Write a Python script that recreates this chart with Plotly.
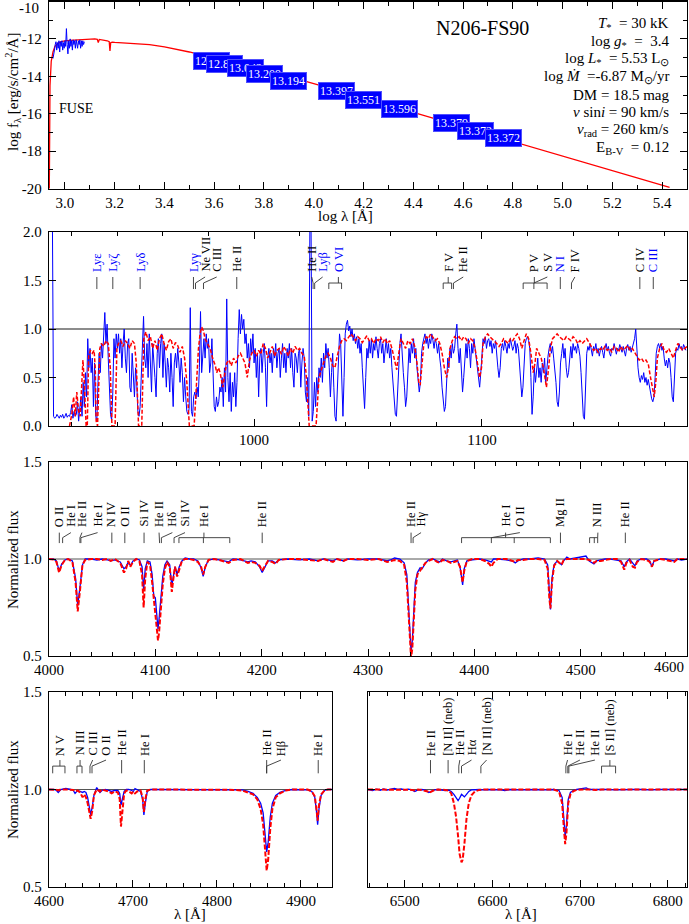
import plotly.graph_objects as go

FONT = "Liberation Serif"
W, H = 689, 924
BLUE = "#0000ff"
RED = "#ff0000"

# ---------------- Panel 1: SED ----------------
sed_model_loglam = [2.937, 2.940, 2.945, 2.952, 2.960, 2.970, 2.985, 3.000, 3.020, 3.040,
                    3.060, 3.080, 3.100, 3.120, 3.130, 3.134, 3.138, 3.150, 3.170, 3.178,
                    3.181, 3.184, 3.190, 3.200, 3.250, 3.300, 3.340, 3.400, 3.460, 3.500,
                    3.550, 3.600, 3.650, 3.700, 3.780, 3.850, 3.900, 3.950, 4.000, 4.050,
                    4.105, 4.150, 4.200, 4.400, 4.600, 4.800, 5.000, 5.200, 5.430]
sed_model_logf = [-20.5, -14.5, -13.2, -12.7, -12.4, -12.25, -12.15, -12.1, -12.08, -12.06,
                  -12.05, -12.05, -12.03, -12.0, -12.02, -12.2, -12.03, -12.05, -12.1, -12.15,
                  -12.65, -12.2, -12.17, -12.19, -12.22, -12.26, -12.31, -12.43, -12.58, -12.7,
                  -12.87, -13.07, -13.23, -13.39, -13.64, -13.88, -14.03, -14.2, -14.39, -14.59,
                  -14.8, -14.95, -15.15, -15.93, -16.71, -17.48, -18.26, -19.04, -19.94]
sed_fuse_loglam = [2.952, 2.955, 2.958, 2.961, 2.964, 2.967, 2.970, 2.973, 2.976, 2.979,
                   2.982, 2.985, 2.988, 2.991, 2.994, 2.997, 3.000, 3.003, 3.006, 3.009,
                   3.012, 3.015, 3.018, 3.021, 3.024, 3.027, 3.030, 3.033, 3.036, 3.039,
                   3.042, 3.045, 3.048, 3.051, 3.054, 3.057, 3.060, 3.063, 3.066, 3.069,
                   3.072, 3.075, 3.078]
sed_fuse_logf = [-13.05, -12.9, -12.6, -12.3, -12.15, -12.6, -12.2, -12.5, -12.1, -12.7,
                 -12.15, -12.4, -12.1, -12.6, -12.2, -12.5, -12.1, -12.4, -11.45, -12.3,
                 -12.8, -12.1, -12.5, -12.0, -12.4, -12.1, -12.6, -12.05, -12.3, -12.1,
                 -12.5, -12.05, -12.2, -12.5, -12.1, -12.3, -12.05, -12.5, -12.1, -12.4,
                 -12.1, -12.3, -12.15]
phot_loglam = [3.589, 3.641, 3.726, 3.804, 3.900, 4.091, 4.198, 4.343, 4.552, 4.648, 4.761]
phot_logf = [-13.16, -13.32, -13.54, -13.86, -14.23, -14.81, -15.29, -15.77, -16.49, -16.93, -17.30]
phot_text = ["12.972", "12.839", "13.042", "13.209", "13.194", "13.397", "13.551",
             "13.596", "13.379", "13.372", "13.372"]
sed_xticks = [3.0, 3.2, 3.4, 3.6, 3.8, 4.0, 4.2, 4.4, 4.6, 4.8, 5.0, 5.2, 5.4]
sed_yticks = [-20, -18, -16, -14, -12]

star_name = "N206-FS90"
param_lines = ["<i>T</i><sub>*</sub>  = 30 kK",
               "log <i>g</i><sub>*</sub>  =  3.4",
               "log <i>L</i><sub>*</sub>  = 5.53 L<sub>⊙</sub>",
               "log <i>Ṁ</i>  =-6.87 M<sub>⊙</sub>/yr",
               "DM = 18.5 mag",
               "<i>v</i> sin<i>i</i> = 90 km/s",
               "<i>v</i><sub>rad</sub> = 260 km/s",
               "E<sub>B-V</sub>  = 0.12"]

# ---------------- Panel 2: FUSE (observed on 0.5 A grid from 910 A) ----------------
fuse_grid_start = 910.0
fuse_grid_step = 0.5
fuse_obs_flux = [
    None, None, None, 2.1, .10, .08, .09, .12, .10, .08, .11, .09, .12, .08, .10, .13, .09, .11, .10, .14,   # 910
    .22, .08, .15, .10, .12, .25, .05, .18, .30, .10, .45, .20, .55, .30, .90, .60, .80, .55, .70, .20,      # 920
    .65, .10, .05, .45, .75, .55, .85, .70, .95, 1.17, .85, 1.05, .70, .30, .12, .06, .35, .90, .70, .95,    # 930
    .80, .95, .75, .90, .60, .85, 1.00, .70, .55, .85, .90, .40, .35, .75, .55, .30, .60, .45, .15, .10,     # 940
    .20, .50, .85, 1.13, .70, .60, .85, .50, .95, .60, .35, .85, .70, .50, .30, .75, .90, .60, .85, .95,     # 950
    .50, .85, .65, .40, .70, .60, .35, .75, .50, .20, .65, .75, .60, .80, .65, .45, .70, .55, .25, .50,      # 960
    .30, .15, .12, .18, 1.22, .15, .10, .30, .35, .28, .40, .30, .60, 1.18, .55, .80, .90, .70, .95, .80,    # 970
    .90, .55, .65, .90, .40, .20, .15, .30, .20, .25, .40, .35, .50, .20, .60, .35, 1.31, .50, .25, .55,     # 980
    .15, .45, .30, .55, .20, .45, .90, 1.20, .95, 1.15, 1.00, 1.10, .85, .95, .70, .85, .60, .90, .75, .95,  # 990
    .65, .80, .50, .75, .30, .70, .80, .55, .75, .85, .60, .20, .70, .80, .65, .75, .55, .80, .70, .85,      # 1000
    .60, .75, .80, .50, .70, .85, .60, .75, .55, .80, .70, .85, .60, .80, .55, .40, .75, .70, .55, .75,      # 1010
    .80, .40, .65, .80, .70, .35, .25, .50, .10, 2.10, 2.10, .05, .15, .45, .20, .50, .35, .60, .50, .70,    # 1020
    .45, .75, .60, .85, .70, .80, .60, .30, .55, .75, .40, .10, .05, .40, .80, .95, .85, .50, .10, .50,      # 1030
    .95, 1.05, 1.09, .98, 1.03, .92, 1.00, .88, .95, .85, .92, .80, .90, .75, .85, .60, .40, .18, .50, .80,  # 1040
    .70, .88, .75, .90, .70, .85, .78, .92, .80, .70, .85, .90, .75, .85, .65, .80, .90, .75, .85, .70,      # 1050
    .80, .60, .45, .25, .12, .10, .40, .70, .85, .95, .70, .55, .40, .20, .30, .60, .80, .65, .85, .75,      # 1060
    .90, .70, .80, .60, .50, .35, .45, .75, .85, .90, .95, .85, .92, .80, .90, .85, .95, .88, .80, .90,      # 1070
    .85, .75, .85, .70, .60, .40, .25, .15, .20, .50, .70, .60, .80, .70, .85, .75, .80, .95, 1.05, .80,     # 1080
    .65, .80, .55, .35, .50, .75, .85, .70, .90, .80, .60, .85, .75, .90, .80, .65, .55, .45, .40, .55,      # 1090
    .80, .90, .85, .92, .80, .88, .90, .82, .88, .75, .85, .80, .88, .70, .60, .50, .60, .80, .85, .78,      # 1100
    .88, .82, .75, .85, .80, .90, .85, .78, .82, .88, .75, .85, .80, .65, .45, .30, .40, .70, .85, .90,      # 1110
    .92, .88, .80, .50, .12, .30, .60, .45, .55, .70, .50, .60, .45, .65, .55, .70, .45, .60, .72, .80,      # 1120
    .85, .75, .82, .70, .60, .45, .25, .20, .35, .65, .75, .85, .70, .80, .60, .50, .55, .75, .82, .70,      # 1130
    .85, .78, .82, .75, .85, .80, .72, .55, .35, .10, .07, .40, .75, .82, .78, .85, .80, .72, .82, .78,      # 1140
    .85, .75, .80, .72, .78, .82, .76, .70, .80, .85, .78, .82, .75, .72, .80, .78, .85, .80, .74, .80,      # 1150
    .78, .84, .80, .76, .82, .78, .72, .80, .84, .78, .82, .76, .80, .85, .90, 1.00, .75, .60, .50, .45,     # 1160
    .52, .48, .55, .45, .50, .42, .48, .40, .35, .28, .25, .30, .50, .75, .82, .85, .80, .85, .78, .82,      # 1170
    .70, .62, .68, .60, .70, .65, .50, .30, .25, .45, .75, .80, .78, .85, .80, .82, .78, .84, .80, .78,      # 1180
]
fuse_mod_wave = [
    919.0, 920.0, 920.8, 921.5, 922.2, 923.0, 923.7, 924.4, 924.9, 925.5,
    925.9, 926.3, 926.8, 927.4, 928.2, 929.0, 929.8, 930.3, 930.7, 931.3,
    931.7, 932.3, 933.0, 934.0, 935.0, 936.0, 936.9, 937.3, 937.6, 939.0,
    939.4, 939.8, 940.5, 941.5, 942.5, 943.5, 944.5, 945.5, 946.5, 947.5,
    948.3, 948.8, 949.3, 950.7, 951.1, 951.6, 952.5, 953.5, 954.5, 955.5,
    956.5, 957.5, 958.5, 959.5, 960.5, 961.5, 962.5, 963.5, 964.5, 965.5,
    966.5, 967.5, 968.5, 969.5, 970.5, 971.2, 971.6, 973.7, 974.3, 974.9,
    975.6, 976.3, 977.0, 977.8, 978.5, 979.5, 980.7, 981.8, 983.0, 983.6,
    984.4, 985.1, 986.3, 987.2, 988.0, 989.0, 990.0, 991.0, 992.0, 993.0,
    994.0, 995.0, 996.0, 997.0, 998.0, 999.0, 1000.0, 1001.0, 1002.0, 1003.0,
    1004.0, 1005.0, 1006.0, 1007.0, 1008.0, 1009.0, 1010.0, 1011.0, 1012.0, 1013.0,
    1014.0, 1015.0, 1016.0, 1017.0, 1018.0, 1019.0, 1020.0, 1021.0, 1022.0, 1022.8,
    1023.5, 1024.2, 1027.2, 1027.8, 1028.5, 1029.5, 1030.5, 1031.5, 1032.5, 1033.5,
    1034.5, 1035.5, 1036.5, 1037.5, 1038.5, 1039.5, 1040.5, 1041.5, 1042.5, 1043.5,
    1044.5, 1045.5, 1046.5, 1047.5, 1048.5, 1049.5, 1050.5, 1051.5, 1052.5, 1053.5,
    1054.5, 1055.5, 1056.5, 1057.5, 1058.5, 1059.5, 1060.5, 1061.5, 1062.6, 1063.5,
    1064.5, 1065.5, 1066.5, 1067.5, 1068.5, 1069.5, 1070.5, 1071.5, 1072.3, 1072.9,
    1073.6, 1074.5, 1075.5, 1076.5, 1077.5, 1078.5, 1079.5, 1080.5, 1081.5, 1082.5,
    1083.5, 1084.5, 1085.3, 1086.0, 1087.0, 1088.0, 1089.0, 1090.0, 1091.0, 1092.0,
    1093.0, 1094.0, 1095.0, 1096.0, 1097.0, 1098.0, 1099.0, 1099.8, 1100.5, 1101.5,
    1102.5, 1103.5, 1104.5, 1105.5, 1106.5, 1107.5, 1108.5, 1109.5, 1110.5, 1111.5,
    1112.5, 1113.5, 1114.5, 1115.5, 1116.5, 1117.5, 1118.5, 1119.5, 1120.5, 1121.5,
    1122.5, 1123.3, 1124.0, 1125.0, 1126.0, 1127.0, 1128.3, 1129.3, 1130.0, 1131.0,
    1132.0, 1133.0, 1134.0, 1135.0, 1136.0, 1137.0, 1138.0, 1139.0, 1140.0, 1141.0,
    1142.0, 1143.0, 1144.0, 1145.0, 1146.0, 1147.0, 1148.0, 1149.0, 1150.0, 1151.0,
    1152.0, 1153.0, 1154.0, 1155.0, 1156.0, 1157.0, 1158.0, 1159.0, 1160.0, 1161.0,
    1162.0, 1163.0, 1164.0, 1165.0, 1166.0, 1167.0, 1168.0, 1169.0, 1170.0, 1171.0,
    1172.0, 1173.0, 1174.0, 1175.0, 1175.6, 1176.3, 1177.0, 1178.0, 1179.0, 1180.0,
    1181.0, 1182.0, 1183.0, 1184.0, 1185.0, 1186.0, 1187.0, 1188.0, 1189.0, 1190.0]
fuse_mod_flux = [
    0.00, 0.12, 0.30, 0.10, 0.35, 0.15, 0.10, 0.55, 0.68, 0.45,
    0.25, 0.00, 0.00, 0.72, 0.78, 0.75, 0.78, 0.60, 0.05, 0.00,
    0.30, 0.80, 0.85, 0.82, 0.88, 0.85, 0.60, 0.10, 0.00, 0.00,
    0.35, 0.80, 0.85, 0.88, 0.82, 0.88, 0.85, 0.80, 0.88, 0.85,
    0.65, 0.30, 0.00, 0.00, 0.40, 0.90, 0.97, 0.88, 0.92, 0.80,
    0.88, 0.78, 0.90, 0.95, 0.85, 0.78, 0.87, 0.90, 0.80, 0.86,
    0.83, 0.76, 0.82, 0.70, 0.45, 0.20, 0.00, 0.00, 0.25, 0.50,
    0.80, 0.95, 1.02, 0.98, 0.90, 0.85, 0.80, 0.70, 0.62, 0.55,
    0.60, 0.55, 0.40, 0.55, 0.65, 0.68, 0.62, 0.70, 0.65, 0.72,
    0.75, 0.70, 0.65, 0.50, 0.68, 0.75, 0.78, 0.72, 0.78, 0.74,
    0.85, 0.80, 0.70, 0.76, 0.82, 0.72, 0.78, 0.80, 0.74, 0.82,
    0.78, 0.72, 0.80, 0.75, 0.82, 0.78, 0.80, 0.75, 0.72, 0.55,
    0.30, 0.00, 0.00, 0.30, 0.50, 0.58, 0.65, 0.72, 0.75, 0.70,
    0.62, 0.60, 0.72, 0.82, 0.88, 0.90, 0.88, 0.92, 0.95, 0.92,
    0.88, 0.92, 0.90, 0.86, 0.90, 0.93, 0.88, 0.90, 0.85, 0.90,
    0.88, 0.92, 0.86, 0.90, 0.85, 0.88, 0.80, 0.68, 0.58, 0.75,
    0.90, 0.85, 0.80, 0.88, 0.85, 0.90, 0.82, 0.65, 0.45, 0.42,
    0.60, 0.85, 0.92, 0.90, 0.95, 0.92, 0.88, 0.90, 0.85, 0.75,
    0.60, 0.50, 0.60, 0.80, 0.88, 0.92, 0.90, 0.92, 0.88, 0.92,
    0.90, 0.85, 0.90, 0.88, 0.80, 0.65, 0.50, 0.60, 0.85, 0.92,
    0.95, 0.92, 0.90, 0.88, 0.85, 0.82, 0.85, 0.90, 0.88, 0.85,
    0.90, 0.88, 0.92, 0.95, 0.90, 0.80, 0.88, 0.95, 0.90, 0.75,
    0.55, 0.65, 0.80, 0.75, 0.70, 0.60, 0.40, 0.60, 0.80, 0.90,
    0.93, 0.95, 0.92, 0.90, 0.88, 0.92, 0.90, 0.88, 0.92, 0.90,
    0.85, 0.88, 0.85, 0.88, 0.90, 0.86, 0.82, 0.78, 0.80, 0.76,
    0.80, 0.78, 0.82, 0.78, 0.80, 0.76, 0.82, 0.80, 0.76, 0.82,
    0.78, 0.80, 0.83, 0.78, 0.80, 0.76, 0.72, 0.68, 0.70, 0.66,
    0.68, 0.64, 0.50, 0.35, 0.30, 0.45, 0.70, 0.80, 0.85, 0.78,
    0.76, 0.80, 0.75, 0.70, 0.78, 0.85, 0.82, 0.78, 0.80, 0.82]
fuse_xticks = [1000, 1100]
fuse_yticks = [0.0, 0.5, 1.0, 1.5, 2.0]

p2_label_text = ["Lyε", "Lyζ", "Lyδ", "Lyγ", "Ne VII", "C III", "He II", "He II", "Lyβ", "O VI",
                 "F V", "He II", "P V", "S V", "N I", "F IV", "C IV", "C III"]
p2_label_x = [931.0, 938.0, 950.0, 973.4, 978.5, 983.6, 992.4, 1025.3, 1030.1, 1037.0,
              1085.2, 1091.8, 1123.0, 1128.7, 1134.4, 1140.8, 1169.3, 1175.2]
p2_label_lines = [[931.0], [938.0], [950.0], [973.4], [974.3], [977.8], [992.4], [1025.9], [1026.6],
                  [1032.8, 1038.4], [1083.0, 1086.7], [1087.5], [1118.1, 1128.6], [1122.8],
                  [1134.4], [1139.3], [1169.3], [1175.2]]
p2_label_color = [BLUE, BLUE, BLUE, BLUE, "black", "black", "black", "black", BLUE, BLUE,
                  "black", "black", "black", "black", BLUE, "black", "black", BLUE]

# ---------------- Panel 3: 4000-4600 A ----------------
p3_wave = [
    4000, 4004, 4007, 4009.5, 4012, 4015, 4018, 4022, 4025, 4027,
    4029, 4031.5, 4034, 4040, 4045, 4050, 4055, 4058, 4062, 4067,
    4070.5, 4072.5, 4074.5, 4076.5, 4079, 4082, 4085, 4087.5, 4089, 4090.5,
    4092.5, 4095, 4097, 4098.5, 4100, 4101.5, 4102.5, 4103.5, 4105, 4107,
    4109, 4111, 4113.5, 4115.5, 4117, 4118.5, 4120.5, 4122.5, 4125, 4128,
    4132, 4136, 4140, 4143, 4145, 4147, 4150, 4155, 4160, 4166,
    4169, 4173, 4180, 4187, 4190, 4194, 4198, 4200.5, 4203, 4206,
    4210, 4213, 4216, 4225, 4235, 4245, 4253, 4258, 4267, 4271,
    4277, 4281, 4290, 4300, 4310, 4318, 4321, 4325, 4330, 4334,
    4336.5, 4338, 4339.3, 4340.5, 4341.7, 4343, 4344.5, 4346.5, 4349, 4351,
    4354, 4357, 4361, 4365, 4367.5, 4370, 4374, 4378, 4381, 4384,
    4386.5, 4388, 4389, 4390.5, 4393, 4398, 4405, 4410, 4414, 4416,
    4418, 4422, 4430, 4436, 4438.5, 4441, 4446, 4452, 4460, 4466,
    4469, 4470.5, 4471.6, 4473, 4475, 4478, 4482, 4484, 4487, 4490,
    4495, 4500, 4505, 4508, 4512.5, 4515, 4519, 4523, 4528, 4534,
    4538, 4541, 4543, 4546, 4549, 4551, 4553, 4557, 4562, 4565,
    4567, 4569, 4575, 4580, 4588, 4591, 4595, 4600]
p3_obs = [
    1.0, 1.0, 0.99, 0.94, 0.975, 0.995, 1.0, 0.99, 0.9, 0.76,
    0.85, 0.97, 1.0, 1.0, 0.995, 1.0, 0.995, 0.99, 0.995, 0.985,
    0.95, 0.96, 0.985, 0.965, 0.99, 1.0, 0.995, 0.96, 0.84, 0.95,
    0.99, 0.985, 0.92, 0.81, 0.8, 0.7, 0.64, 0.69, 0.8, 0.91,
    0.97, 0.99, 0.97, 0.86, 0.91, 0.96, 0.92, 0.96, 0.99, 1.005,
    1.0, 1.0, 0.99, 0.955, 0.91, 0.96, 0.995, 1.0, 0.995, 0.99,
    0.985, 1.0, 0.995, 0.985, 0.99, 0.985, 0.96, 0.93, 0.96, 0.99,
    0.99, 0.98, 0.995, 1.0, 0.995, 1.0, 0.99, 1.0, 0.99, 1.0,
    0.99, 1.0, 0.995, 1.0, 1.0, 0.99, 0.995, 1.005, 1.0, 0.98,
    0.92, 0.78, 0.6, 0.52, 0.58, 0.74, 0.88, 0.93, 0.955, 0.95,
    0.98, 0.995, 1.0, 0.99, 0.985, 1.0, 0.99, 0.985, 0.99, 0.995,
    0.96, 0.9, 0.866, 0.95, 0.99, 0.995, 1.0, 0.995, 0.99, 0.985,
    1.0, 1.0, 0.995, 0.99, 0.98, 0.99, 1.0, 1.0, 1.005, 1.0,
    0.97, 0.85, 0.74, 0.9, 0.97, 0.99, 0.97, 0.99, 1.01, 1.0,
    1.005, 1.01, 1.015, 0.99, 0.975, 0.99, 0.995, 1.0, 1.0, 0.995,
    0.99, 0.96, 0.985, 1.0, 0.975, 0.965, 0.99, 1.0, 1.0, 0.99,
    0.96, 0.99, 1.0, 1.0, 0.99, 1.0, 0.995, 1.0]
p3_mod = [
    1.0, 0.998, 0.985, 0.93, 0.97, 0.995, 1.0, 0.985, 0.88, 0.73,
    0.83, 0.97, 0.995, 1.0, 1.0, 0.995, 1.0, 0.99, 1.0, 0.98,
    0.93, 0.95, 0.99, 0.96, 0.985, 1.0, 0.99, 0.92, 0.75, 0.9,
    0.985, 0.97, 0.88, 0.8, 0.7, 0.62, 0.58, 0.62, 0.74, 0.87,
    0.95, 0.985, 0.96, 0.83, 0.9, 0.96, 0.91, 0.95, 0.99, 1.0,
    1.0, 0.995, 0.985, 0.96, 0.92, 0.96, 0.995, 1.0, 0.995, 0.985,
    0.98, 0.995, 1.0, 0.98, 0.985, 0.98, 0.965, 0.94, 0.965, 0.99,
    0.985, 0.975, 0.995, 1.0, 1.0, 0.995, 0.99, 1.0, 0.985, 1.0,
    0.99, 1.0, 1.0, 0.995, 1.0, 0.985, 0.99, 0.995, 0.99, 0.97,
    0.88, 0.7, 0.55, 0.49, 0.54, 0.68, 0.84, 0.92, 0.94, 0.955,
    0.98, 0.99, 1.0, 0.985, 0.98, 0.995, 0.99, 0.98, 0.985, 0.99,
    0.96, 0.9, 0.88, 0.94, 0.99, 1.0, 1.0, 0.99, 0.975, 0.96,
    0.98, 1.0, 1.0, 0.99, 0.985, 0.995, 0.995, 1.0, 1.0, 0.995,
    0.95, 0.8, 0.745, 0.88, 0.965, 0.99, 0.97, 0.995, 1.0, 1.0,
    1.0, 1.0, 1.0, 0.995, 0.98, 0.99, 0.99, 0.995, 1.0, 1.0,
    0.985, 0.945, 0.98, 0.995, 0.96, 0.955, 0.985, 1.0, 0.995, 0.985,
    0.96, 0.99, 1.0, 0.995, 0.985, 1.0, 1.0, 1.0]
p3_xticks = [4000, 4100, 4200, 4300, 4400, 4500]

p3_label_text = ["O II", "He I", "He II", "He I", "N IV", "O II", "Si IV", "He II", "Hδ", "Si IV",
                 "He I", "He II", "He II", "Hγ", "He I", "O II", "Mg II", "N III", "He II"]
p3_label_x = [4009.7, 4020.6, 4031.0, 4045.7, 4059.1, 4071.3, 4089.4, 4103.5, 4116.0, 4127.9,
              4145.7, 4200.5, 4340.5, 4349.9, 4429.4, 4442.8, 4481.0, 4516.2, 4542.0]
p3_label_lines = [[4009.7], [4012.8], [4029.1], [4030.0], [4059.1], [4071.3], [4089.4], [4104.0],
                  [4105.7], [4117.6], [4122.2, 4145.2, 4170.0], [4200.5], [4340.5], [4342.4],
                  [4388.0, 4437.5, 4471.5], [4416.0], [4481.0], [4508.4, 4512.8, 4516.0], [4542.0]]

# ---------------- Panel 4: 4600-4940 A ----------------
p4_wave = [
    4600, 4606, 4609, 4611, 4614, 4620, 4626, 4629, 4631, 4634,
    4637, 4640, 4642, 4644, 4646, 4648, 4649.6, 4651.5, 4653.5, 4656.8,
    4658.5, 4660.7, 4663, 4667, 4671, 4674.6, 4678, 4682, 4684.2, 4685.7,
    4687.3, 4689.5, 4692, 4695, 4698.5, 4700.5, 4702.4, 4705, 4709, 4711.5,
    4713, 4714.7, 4717, 4721, 4730, 4740, 4750, 4760, 4770, 4780,
    4790, 4800, 4810, 4820, 4830, 4837, 4843, 4848, 4852, 4855,
    4857.5, 4859.2, 4861, 4863.5, 4866, 4870, 4875, 4882, 4890, 4900,
    4908, 4913, 4916.5, 4918.5, 4919.9, 4921.5, 4924, 4928, 4932, 4937]
p4_obs = [
    1.0, 1.0, 0.995, 0.985, 1.0, 1.005, 1.0, 0.995, 0.98, 0.995,
    0.99, 0.985, 0.99, 0.985, 0.96, 0.9, 0.87, 0.91, 0.97, 1.01,
    1.0, 0.985, 0.995, 1.0, 0.995, 0.99, 0.995, 0.995, 0.98, 0.92,
    0.95, 0.99, 1.0, 1.0, 0.995, 0.99, 1.005, 1.0, 0.99, 0.95,
    0.87, 0.93, 0.99, 1.0, 1.0, 0.998, 1.0, 1.0, 0.998, 1.0,
    1.0, 0.998, 1.0, 1.0, 0.998, 0.99, 0.98, 0.96, 0.93, 0.88,
    0.78, 0.68, 0.73, 0.86, 0.93, 0.97, 0.985, 0.995, 1.0, 1.0,
    0.998, 0.99, 0.96, 0.89, 0.82, 0.9, 0.97, 0.995, 1.0, 1.0]
p4_mod = [
    1.0, 1.0, 0.998, 0.995, 1.0, 1.0, 1.0, 0.998, 0.99, 0.995,
    0.985, 0.96, 0.975, 0.96, 0.93, 0.89, 0.85, 0.89, 0.97, 1.0,
    0.995, 0.99, 1.0, 0.995, 0.99, 0.98, 0.99, 0.985, 0.95, 0.81,
    0.9, 0.98, 0.995, 0.99, 0.98, 0.99, 0.98, 0.99, 0.995, 0.96,
    0.885, 0.95, 0.995, 1.0, 1.0, 1.0, 0.998, 1.0, 1.0, 1.0,
    0.998, 1.0, 1.0, 0.998, 0.995, 0.985, 0.975, 0.95, 0.9, 0.82,
    0.7, 0.584, 0.64, 0.8, 0.9, 0.96, 0.98, 0.995, 1.0, 1.0,
    1.0, 0.99, 0.965, 0.9, 0.84, 0.92, 0.975, 0.995, 1.0, 1.0]
p4_xticks = [4600, 4700, 4800, 4900]

p4_label_text = ["N V", "N III", "C III", "O II", "He II", "He I", "He II", "Hβ", "He I"]
p4_label_x = [4613.0, 4637.0, 4652.0, 4667.9, 4686.5, 4713.5, 4859.2, 4876.2, 4920.6]
p4_label_lines = [[4604.4, 4619.0], [4633.3, 4639.3], [4648.8], [4651.2], [4686.5], [4713.5],
                  [4859.2], [4859.2], [4920.6]]

# ---------------- Panel 5: H alpha region ----------------
p5_wave = [
    6458, 6463, 6468, 6472, 6476, 6480, 6484, 6488, 6492, 6496,
    6500, 6504, 6508, 6511.4, 6515, 6519, 6523, 6526, 6527.5, 6530,
    6534, 6538, 6542, 6546, 6550, 6553, 6556, 6558.5, 6560.8, 6562.5,
    6564.7, 6566, 6568, 6570.4, 6573, 6576, 6580, 6585, 6590, 6596,
    6602, 6608, 6614, 6620, 6630, 6640, 6650, 6660, 6670, 6676,
    6679.5, 6681.5, 6683, 6684.5, 6686.5, 6689, 6692, 6696, 6700, 6704,
    6707, 6711, 6718, 6725, 6732, 6740, 6750, 6760, 6770, 6780,
    6790, 6800, 6810, 6822]
p5_obs = [
    1.0, 0.995, 1.002, 0.996, 1.003, 0.997, 1.002, 1.005, 1.0, 1.003,
    0.998, 1.002, 0.998, 0.99, 0.998, 1.0, 0.998, 0.99, 0.985, 0.99,
    0.998, 1.0, 0.998, 0.995, 0.997, 0.99, 0.975, 0.955, 0.943, 0.955,
    0.975, 0.97, 0.962, 0.975, 0.99, 0.998, 1.0, 1.0, 0.998, 1.0,
    0.998, 1.0, 0.995, 1.0, 0.998, 1.0, 1.0, 0.998, 1.0, 0.995,
    0.96, 0.85, 0.758, 0.82, 0.95, 0.985, 0.995, 1.0, 1.003, 1.005,
    1.008, 1.0, 1.0, 1.003, 1.0, 0.998, 1.0, 1.0, 1.0, 0.998,
    1.0, 1.0, 1.0, 1.0]
p5_mod = [
    1.0, 1.0, 0.998, 1.0, 0.998, 0.998, 1.0, 0.998, 0.998, 1.0,
    0.998, 1.0, 0.998, 0.995, 1.0, 0.998, 0.995, 0.99, 0.983, 0.99,
    0.998, 1.0, 1.0, 0.998, 0.995, 0.98, 0.93, 0.86, 0.76, 0.67,
    0.627, 0.64, 0.72, 0.85, 0.93, 0.97, 0.99, 0.998, 1.0, 1.0,
    1.0, 1.0, 1.0, 0.998, 1.0, 1.0, 0.998, 1.0, 1.0, 0.99,
    0.93, 0.8, 0.72, 0.78, 0.93, 0.975, 0.99, 0.998, 1.0, 1.0,
    1.0, 1.0, 0.998, 1.0, 1.0, 1.0, 1.0, 0.998, 1.0, 1.0,
    1.0, 1.0, 1.0, 1.0]
p5_xticks = [6500, 6600, 6700, 6800]

p5_label_text = ["He II", "[N II] (neb)", "He II", "Hα", "[N II] (neb)", "He I", "He II", "He II",
                 "[S II] (neb)"]
p5_label_x = [6529.3, 6549.4, 6562.8, 6576.1, 6593.3, 6685.7, 6699.8, 6716.9, 6734.0]
p5_label_lines = [[6529.3], [6549.4], [6561.6], [6564.7], [6586.8], [6683.8], [6686.0], [6687.2],
                  [6724.5, 6740.5]]

norm_yticks = [0.5, 1.0, 1.5]

for a, b in [(p3_wave, p3_obs), (p3_wave, p3_mod), (p4_wave, p4_obs), (p4_wave, p4_mod),
             (p5_wave, p5_obs), (p5_wave, p5_mod), (fuse_mod_wave, fuse_mod_flux),
             (sed_model_loglam, sed_model_logf), (sed_fuse_loglam, sed_fuse_logf)]:
    assert len(a) == len(b), (len(a), len(b))

fuse_obs_wave = [fuse_grid_start + fuse_grid_step * i for i in range(len(fuse_obs_flux))]


# ---------------- helpers ----------------
def px_x(px):
    return px / W


def px_y(py):
    return 1 - py / H


fig = go.Figure()


def line_trace(x, y, xa, ya, color, width, dash=None):
    fig.add_trace(go.Scatter(x=x, y=y, mode="lines", xaxis=xa, yaxis=ya, hoverinfo="skip",
                             showlegend=False,
                             line=dict(color=color, width=width, dash=dash)))


def draw_labels(xa, ya, texts, xs, lines, colors, levels, size=12.5):
    y_text, y_top, y_mid, y_bot = levels
    sx, sy = [], []
    for t, x, ls, c in zip(texts, xs, lines, colors):
        fig.add_annotation(x=x, y=y_text, xref=xa, yref=ya, text=t, textangle=-90,
                           xanchor="center", yanchor="bottom", showarrow=False, borderpad=0,
                           font=dict(family=FONT, size=size, color=c))
        if len(ls) == 1:
            sx += [x, ls[0], ls[0], None]
            sy += [y_top, y_mid, y_bot, None]
        else:
            lo, hi = min(ls), max(ls)
            xc = min(max(x, lo), hi)
            sx += [x, xc, None, lo, hi, None]
            sy += [y_top, y_mid, None, y_mid, y_mid, None]
            for l in ls:
                sx += [l, l, None]
                sy += [y_mid, y_bot, None]
    fig.add_trace(go.Scatter(x=sx, y=sy, mode="lines", xaxis=xa, yaxis=ya, hoverinfo="skip",
                             showlegend=False, line=dict(color="#333333", width=0.9)))


# ---------------- traces ----------------
line_trace(sed_model_loglam, sed_model_logf, "x", "y", RED, 1.3)
line_trace(sed_fuse_loglam, sed_fuse_logf, "x", "y", BLUE, 1.0)

line_trace(fuse_obs_wave, fuse_obs_flux, "x2", "y2", BLUE, 1.0)
line_trace(fuse_mod_wave, fuse_mod_flux, "x2", "y2", RED, 1.5, "4px,2px")

line_trace(p3_wave, p3_obs, "x3", "y3", BLUE, 1.3)
line_trace(p3_wave, p3_mod, "x3", "y3", RED, 2.0, "5px,2px")
line_trace(p4_wave, p4_obs, "x4", "y4", BLUE, 1.3)
line_trace(p4_wave, p4_mod, "x4", "y4", RED, 2.0, "5px,2px")
line_trace(p5_wave, p5_obs, "x5", "y5", BLUE, 1.3)
line_trace(p5_wave, p5_mod, "x5", "y5", RED, 2.0, "5px,2px")

# continuum reference lines
for xa, ya, col, wd in [("x2", "y2", "#8c8c8c", 2.0), ("x3", "y3", "#555555", 1.0),
                        ("x4", "y4", "#555555", 1.0), ("x5", "y5", "#555555", 1.0)]:
    fig.add_shape(type="line", xref=xa + " domain", yref=ya, x0=0, x1=1, y0=1.0, y1=1.0,
                  line=dict(color=col, width=wd), layer="below")

# line identifications
draw_labels("x2", "y2", p2_label_text, p2_label_x, p2_label_lines, p2_label_color,
            (1.577, 1.536, 1.474, 1.412))
draw_labels("x3", "y3", p3_label_text, p3_label_x, p3_label_lines, ["black"] * len(p3_label_text),
            (1.16, 1.136, 1.110, 1.082))
draw_labels("x4", "y4", p4_label_text, p4_label_x, p4_label_lines, ["black"] * len(p4_label_text),
            (1.168, 1.151, 1.12, 1.083))
draw_labels("x5", "y5", p5_label_text, p5_label_x, p5_label_lines, ["black"] * len(p5_label_text),
            (1.168, 1.151, 1.12, 1.083))

# photometry boxes
for lx, lf, t in zip(phot_loglam, phot_logf, phot_text):
    fig.add_annotation(x=lx, y=lf, xref="x", yref="y", text=t, showarrow=False,
                       bgcolor=BLUE, bordercolor="#5050ff", borderwidth=1, borderpad=1,
                       font=dict(family=FONT, size=12, color="white"))

# ---------------- axes ----------------
tickfont = dict(family=FONT, size=15, color="black")


def axis(domain, rng, tickvals, ticktext, minor_vals=None, anchor=None, show=True, standoff=3):
    d = dict(domain=domain, range=rng, tickmode="array", tickvals=tickvals, ticktext=ticktext,
             ticks="inside", ticklen=7, tickwidth=1, tickcolor="black", showline=True,
             linecolor="black", linewidth=1.3, mirror="allticks", showgrid=False,
             zeroline=False, tickfont=tickfont, anchor=anchor, showticklabels=show,
             ticklabelstandoff=standoff, automargin=False)
    if minor_vals:
        d["minor"] = dict(tickmode="array", tickvals=minor_vals, ticks="inside", ticklen=4,
                          tickcolor="black", showgrid=False)
    return d


xdom_full = [px_x(49), px_x(687)]
fig.update_layout(
    width=W, height=H, margin=dict(l=0, r=0, t=0, b=0, pad=0, autoexpand=False), autosize=False,
    paper_bgcolor="white", plot_bgcolor="white", showlegend=False, hovermode=False,
    font=dict(family=FONT, color="black"),
    xaxis=axis(xdom_full, [2.936, 5.5], sed_xticks, ["%.1f" % v for v in sed_xticks],
               [round(2.9 + 0.2 * i, 2) for i in range(14)], "y", standoff=0),
    yaxis=axis([px_y(188.5), px_y(1.5)], [-20, -10], sed_yticks,
               ["%d" % v for v in sed_yticks],
               [-19, -17, -15, -13, -11], "x"),
    xaxis2=axis(xdom_full, [910, 1190], fuse_xticks, ["1000", "1100"],
                [920 + 20 * i for i in range(14) if (920 + 20 * i) % 100], "y2", standoff=0),
    yaxis2=axis([px_y(426), px_y(232)], [0, 2.0], fuse_yticks, ["%.1f" % v for v in fuse_yticks],
                None, "x2"),
    xaxis3=axis(xdom_full, [4000, 4600], p3_xticks, [str(v) for v in p3_xticks],
                [4000 + 20 * i for i in range(30) if (20 * i) % 100], "y3", standoff=0),
    yaxis3=axis([px_y(656), px_y(462)], [0.5, 1.5], norm_yticks, ["0.5", "1.0", "1.5"], None, "x3"),
    xaxis4=axis([px_x(49), px_x(332)], [4600, 4937], p4_xticks, [str(v) for v in p4_xticks],
                [4600 + 20 * i for i in range(17) if (20 * i) % 100], "y4", standoff=0),
    yaxis4=axis([px_y(887), px_y(692)], [0.5, 1.5], norm_yticks, ["0.5", "1.0", "1.5"], None, "x4"),
    xaxis5=axis([px_x(368), px_x(687)], [6458, 6822], p5_xticks, [str(v) for v in p5_xticks],
                [6460 + 20 * i for i in range(19) if (6460 + 20 * i) % 100], "y5", standoff=0),
    yaxis5=axis([px_y(887), px_y(692)], [0.5, 1.5], norm_yticks, ["0.5", "1.0", "1.5"], None, "x5",
                show=False),
)


def paper_text(text, x, y, size, xanchor="center", yanchor="middle", angle=0, color="black"):
    fig.add_annotation(x=px_x(x), y=px_y(y), xref="paper", yref="paper", text=text,
                       showarrow=False, xanchor=xanchor, yanchor=yanchor, textangle=angle,
                       font=dict(family=FONT, size=size, color=color))


paper_text("-10", 41, 8, 15, xanchor="right")
paper_text("4600", 669, 667, 15)
paper_text(star_name, 482, 28, 20)
for i, t in enumerate(param_lines):
    paper_text(t, 671, 24 + 17.7 * i, 15, xanchor="right")
paper_text("FUSE", 57, 109, 14, xanchor="left")
paper_text("log λ [Å]", 345, 216, 15)
paper_text("log f<sub>λ</sub> [erg/s/cm<sup>2</sup>/Å]", 13, 92, 15, angle=-90)
paper_text("Normalized flux", 13, 560, 15, angle=-90)
paper_text("Normalized flux", 13, 790, 15, angle=-90)
paper_text("λ [Å]", 190, 914, 15)
paper_text("λ [Å]", 521, 914, 15)

fig.write_html("out.html", config={"displayModeBar": False, "staticPlot": True},
               post_script="document.body.style.margin='0px';document.body.style.padding='0px';")
